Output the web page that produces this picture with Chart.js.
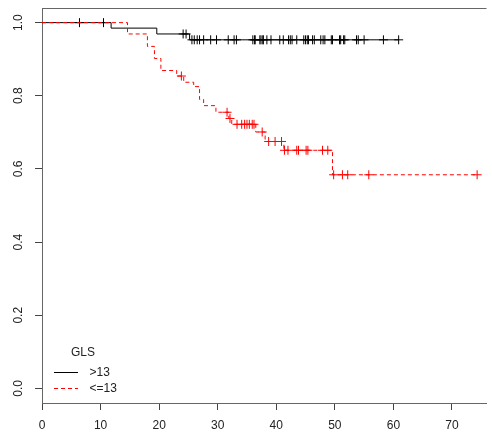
<!DOCTYPE html>
<html>
<head>
<meta charset="utf-8">
<title>GLS survival</title>
<script src="https://cdn.jsdelivr.net/npm/chart.js@4/dist/chart.umd.min.js"></script>
<style>
  html, body { margin: 0; padding: 0; background: #fff; }
  #km { display: block; }
</style>
</head>
<body>
<canvas id="km" width="492" height="434"></canvas>
<script>
// Kaplan-Meier curves by GLS group, time in months

const groups = [">13", "<=13"];
const legendTitle = "GLS";

// GLS >13: event times and survival right after each event
const highTimes = [11.8, 19.6, 25.2];
const highSurv = [0.985, 0.969, 0.953];
const highCensor = [6.4, 10.5, 24.1, 24.6, 25.6, 26.0, 26.5, 26.9, 27.6, 28.8,
  29.8, 31.8, 32.8, 33.2, 36.0, 36.3, 36.4, 37.2, 37.4, 37.7, 37.8, 38.4, 39.1,
  40.6, 41.2, 42.1, 42.4, 42.7, 43.5, 44.7, 45.0, 45.3, 45.5, 46.2, 46.5, 47.6,
  48.0, 48.3, 49.4, 49.6, 50.8, 51.0, 51.5, 51.7, 53.7, 54.0, 55.0, 58.3, 60.9];

// GLS <=13
const lowTimes = [14.6, 18.0, 19.2, 20.3, 23.0, 24.2, 25.9, 26.9, 27.6, 29.7,
  31.9, 32.4, 36.5, 38.1, 41.3, 49.6];
const lowSurv = [0.969, 0.935, 0.902, 0.869, 0.854, 0.837, 0.825, 0.790, 0.773,
  0.755, 0.738, 0.722, 0.701, 0.675, 0.651, 0.584];
const lowCensor = [23.8, 31.6, 32.1, 33.3, 34.1, 34.6, 35.0, 35.4, 35.9, 36.2,
  37.6, 38.7, 39.8, 40.9, 41.4, 42.0, 43.5, 43.8, 45.1, 45.4, 47.9, 48.8, 49.8,
  51.3, 52.2, 55.8, 74.3];

const xMax = 75.9;
const yMin = -0.04;
const yMax = 1.04;

const highColor = "#000000";
const lowColor = "#ff0000";
const lowDash = [4, 3];

function survAt(times, surv, t) {
  let s = 1;
  times.forEach((tt, i) => {
    if (tt <= t) s = surv[i];
  });
  return s;
}

function stepPoints(times, surv, censor) {
  const pts = [{ x: 0, y: 1 }];
  times.forEach((t, i) => pts.push({ x: t, y: surv[i] }));
  const last = Math.max(...censor, ...times);
  pts.push({ x: last, y: surv[surv.length - 1] });
  return pts;
}

function censorPoints(times, surv, censor) {
  return censor.map((t) => ({ x: t, y: survAt(times, surv, t) }));
}

// box top edge (R style box, right side runs off the canvas)
const topEdge = {
  id: "topEdge",
  afterDraw(chart) {
    const { ctx, chartArea } = chart;
    ctx.save();
    ctx.strokeStyle = "#666";
    ctx.lineWidth = 1;
    ctx.beginPath();
    ctx.moveTo(chartArea.left, chartArea.top + 0.5);
    ctx.lineTo(chartArea.right, chartArea.top + 0.5);
    ctx.stroke();
    ctx.restore();
  },
};

// legend in the lower left corner
const cornerLegend = {
  id: "cornerLegend",
  afterDraw(chart) {
    const ctx = chart.ctx;
    ctx.save();
    ctx.font = '12px "Liberation Sans", Arial, sans-serif';
    ctx.fillStyle = "#222";
    ctx.textBaseline = "middle";
    ctx.fillText(legendTitle, 71, 353);

    const rows = [
      { y: 372.5, color: highColor, dash: [] },
      { y: 388.5, color: lowColor, dash: lowDash },
    ];
    rows.forEach((r, i) => {
      ctx.strokeStyle = r.color;
      ctx.lineWidth = 1;
      ctx.setLineDash(r.dash);
      ctx.beginPath();
      ctx.moveTo(54, r.y);
      ctx.lineTo(78, r.y);
      ctx.stroke();
      ctx.setLineDash([]);
      ctx.fillText(groups[i], 89.5, r.y + 0.5);
    });
    ctx.restore();
  },
};

new Chart(document.getElementById("km"), {
  type: "line",
  data: {
    datasets: [
      {
        label: groups[1],
        data: stepPoints(lowTimes, lowSurv, lowCensor),
        stepped: "before",
        borderColor: lowColor,
        borderWidth: 1,
        borderDash: lowDash,
        pointRadius: 0,
        fill: false,
        order: 0,
      },
      {
        label: groups[1] + " censored",
        type: "scatter",
        data: censorPoints(lowTimes, lowSurv, lowCensor),
        pointStyle: "cross",
        pointRadius: 4.5,
        borderColor: lowColor,
        backgroundColor: lowColor,
        borderWidth: 1,
        order: 1,
      },
      {
        label: groups[0],
        data: stepPoints(highTimes, highSurv, highCensor),
        stepped: "before",
        borderColor: highColor,
        borderWidth: 1,
        pointRadius: 0,
        fill: false,
        order: 2,
      },
      {
        label: groups[0] + " censored",
        type: "scatter",
        data: censorPoints(highTimes, highSurv, highCensor),
        pointStyle: "cross",
        pointRadius: 4.5,
        borderColor: highColor,
        backgroundColor: highColor,
        borderWidth: 1,
        order: 3,
      },
    ],
  },
  options: {
    responsive: false,
    animation: false,
    devicePixelRatio: 1,
    events: [],
    layout: { padding: { top: 8, right: 0, bottom: 0, left: 0 } },
    plugins: {
      legend: { display: false },
      tooltip: { enabled: false },
    },
    scales: {
      x: {
        type: "linear",
        min: 0,
        max: xMax,
        afterFit: (scale) => {
          scale.height = 31;
          scale.paddingLeft = 0;
          scale.paddingRight = 0;
        },
        border: { display: true, color: "#666" },
        grid: { drawOnChartArea: false, drawTicks: true, tickLength: 7, color: "#444" },
        ticks: {
          stepSize: 10,
          includeBounds: false,
          padding: 8,
          color: "#222",
          font: { family: '"Liberation Sans", Arial, sans-serif', size: 12 },
          maxRotation: 0,
        },
      },
      y: {
        type: "linear",
        min: yMin,
        max: yMax,
        afterFit: (scale) => {
          scale.width = 42;
          scale.paddingTop = 0;
          scale.paddingBottom = 0;
        },
        border: { display: true, color: "#666" },
        grid: { drawOnChartArea: false, drawTicks: true, tickLength: 7, color: "#444" },
        ticks: {
          stepSize: 0.2,
          includeBounds: false,
          minRotation: 90,
          maxRotation: 90,
          crossAlign: "center",
          padding: 8,
          color: "#222",
          font: { family: '"Liberation Sans", Arial, sans-serif', size: 12 },
          callback: (v) => v.toFixed(1),
        },
      },
    },
  },
  plugins: [topEdge, cornerLegend],
});
</script>
</body>
</html>
